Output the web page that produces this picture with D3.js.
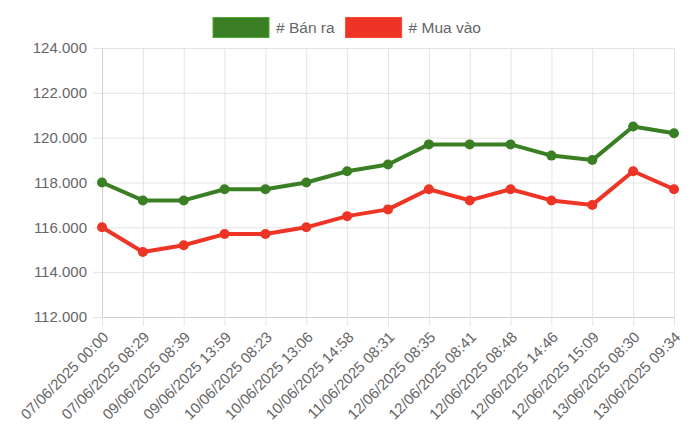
<!DOCTYPE html>
<html>
<head>
<meta charset="utf-8">
<script src="https://cdn.jsdelivr.net/npm/d3@7"></script>
<style>
  body { margin: 0; background: #fff; }
  svg { font-family: "Liberation Sans", Arial, Helvetica, sans-serif; }
</style>
</head>
<body>
<svg width="700" height="436"></svg>
<script>
const labels = ["07/06/2025 00:00", "07/06/2025 08:29", "09/06/2025 08:39", "09/06/2025 13:59",
  "10/06/2025 08:23", "10/06/2025 13:06", "10/06/2025 14:58", "11/06/2025 08:31",
  "12/06/2025 08:35", "12/06/2025 08:41", "12/06/2025 08:48", "12/06/2025 14:46",
  "12/06/2025 15:09", "13/06/2025 08:30", "13/06/2025 09:34"];
const banRa = [118000, 117200, 117200, 117700, 117700, 118000, 118500, 118800,
  119700, 119700, 119700, 119200, 119000, 120500, 120200];
const muaVao = [116000, 114900, 115200, 115700, 115700, 116000, 116500, 116800,
  117700, 117200, 117700, 117200, 117000, 118500, 117700];
const yTicks = [112000, 114000, 116000, 118000, 120000, 122000, 124000];

const series = [
  { name: "# Bán ra", values: banRa, color: "#3a7f23" },
  { name: "# Mua vào", values: muaVao, color: "#ee3425" }
];

const svg = d3.select("svg");
const margin = { top: 48, right: 26, bottom: 119, left: 102 };
const width = 700 - margin.left - margin.right;
const height = 436 - margin.top - margin.bottom;

const vn = d3.formatLocale({ decimal: ",", thousands: ".", grouping: [3], currency: ["", "đ"] });
const fmt = vn.format(",.0f");

const x = d3.scalePoint().domain(labels).range([0, width]);
const y = d3.scaleLinear().domain([112000, 124000]).range([height, 0]);

const g = svg.append("g").attr("transform", `translate(${margin.left},${margin.top})`);

// grid
g.append("g")
  .call(d3.axisLeft(y).tickValues(yTicks).tickSize(-width).tickFormat(""))
  .call(a => a.select(".domain").remove())
  .call(a => a.selectAll("line").attr("stroke", "#e4e4e4"));
g.append("g")
  .call(d3.axisBottom(x).tickSize(height).tickFormat(""))
  .call(a => a.select(".domain").remove())
  .call(a => a.selectAll("line").attr("stroke", "#e4e4e4"));

// y axis
const yAxis = g.append("g")
  .call(d3.axisLeft(y).tickValues(yTicks).tickSize(9).tickPadding(6).tickFormat(fmt));
yAxis.select(".domain").attr("stroke", "#cfcfcf");
yAxis.selectAll("line").attr("stroke", "#e4e4e4");
yAxis.selectAll("text").attr("fill", "#666").attr("font-size", 15);

// x axis
const xAxis = g.append("g").attr("transform", `translate(0,${height})`)
  .call(d3.axisBottom(x).tickSize(9).tickSizeOuter(0));
xAxis.select(".domain").attr("stroke", "#cfcfcf");
xAxis.selectAll("line").attr("stroke", "#e4e4e4");
xAxis.selectAll("text")
  .attr("fill", "#666").attr("font-size", 15)
  .attr("text-anchor", "end")
  .attr("dy", null).attr("y", 0)
  .attr("transform", "translate(7,21) rotate(-45)");

// lines
const line = d3.line().x((d, i) => x(labels[i])).y(d => y(d));
series.forEach(s => {
  g.append("path").datum(s.values)
    .attr("fill", "none").attr("stroke", s.color)
    .attr("stroke-width", 4).attr("stroke-linejoin", "round")
    .attr("d", line);
  g.selectAll(null).data(s.values).enter().append("circle")
    .attr("cx", (d, i) => x(labels[i]))
    .attr("cy", d => y(d))
    .attr("r", 5)
    .attr("fill", s.color);
});

// legend
const legend = svg.append("g").attr("transform", "translate(213,0)");
let lx = 0;
series.forEach(s => {
  const it = legend.append("g").attr("transform", `translate(${lx},0)`);
  it.append("rect").attr("x", 0).attr("y", 17.5).attr("width", 56).attr("height", 20)
    .attr("fill", s.color).attr("stroke", d3.color(s.color).brighter(0.8)).attr("stroke-width", 1);
  const t = it.append("text").attr("x", 63).attr("y", 33).attr("font-size", 15.5)
    .attr("fill", "#666").text(s.name);
  lx += 63 + t.node().getComputedTextLength() + 11;
});
</script>
</body>
</html>
